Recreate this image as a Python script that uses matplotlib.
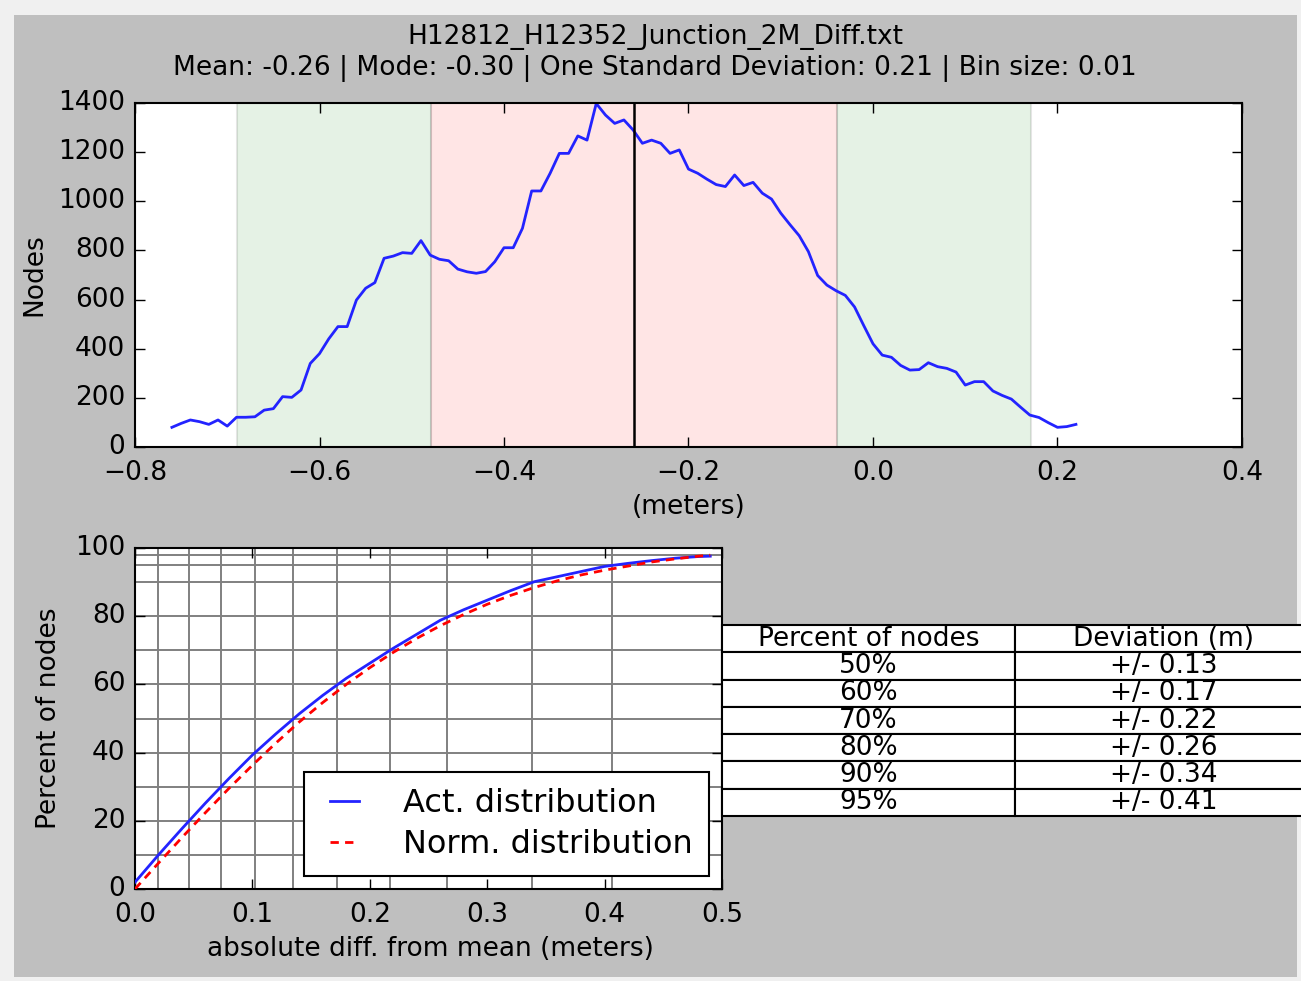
import matplotlib
matplotlib.use("Agg")
import matplotlib.pyplot as plt
import numpy as np
from matplotlib.patches import Rectangle

# --- histogram of differences (bin size 0.01, first bin at -0.76 m) ---
bin_start = -0.76
bin_size = 0.01
node_counts = [80, 96, 110, 103, 92, 110, 85, 121, 121, 123,
               150, 156, 205, 202, 232, 340, 380, 440, 490, 490,
               598, 646, 669, 768, 777, 791, 788, 840, 781, 764,
               758, 724, 713, 707, 714, 754, 811, 811, 890, 1042,
               1042, 1114, 1195, 1195, 1266, 1249, 1398, 1351, 1317, 1331,
               1290, 1236, 1249, 1236, 1195, 1209, 1131, 1114, 1090, 1068,
               1060, 1107, 1064, 1077, 1033, 1009, 952, 905, 860, 795,
               698, 659, 636, 617, 570, 494, 420, 374, 365, 332,
               313, 315, 343, 327, 320, 305, 252, 266, 266, 228,
               210, 195, 162, 130, 120, 99, 80, 83, 92]
mean_diff = -0.259
one_std_band = (-0.479, -0.039)
two_std_band = (-0.689, 0.171)

# --- cumulative distribution of |diff - mean| ---
abs_diff = [0.00, 0.02, 0.04, 0.06, 0.08, 0.10, 0.12, 0.14, 0.16, 0.18,
            0.20, 0.22, 0.24, 0.26, 0.28, 0.30, 0.32, 0.34, 0.36, 0.38,
            0.40, 0.42, 0.44, 0.46, 0.48, 0.49]
act_pct = [2.0, 10.0, 17.7, 25.2, 32.4, 39.3, 45.5, 51.4, 56.8, 61.8,
           66.2, 70.6, 74.7, 78.8, 81.9, 84.7, 87.5, 90.1, 91.6, 93.1,
           94.6, 95.5, 96.3, 97.0, 97.5, 97.6]
norm_pct = [0.0, 7.6, 15.1, 22.4, 29.5, 36.3, 42.8, 49.0, 54.7, 60.0,
            64.9, 69.4, 73.5, 77.2, 80.5, 83.5, 86.1, 88.4, 90.4, 92.1,
            93.5, 94.7, 95.9, 96.8, 97.6, 97.9]

# percentile grid (percent of nodes -> deviation)
grid_pct = [10, 20, 30, 40, 50, 60, 70, 80, 90, 95, 98]
grid_dev = [0.020, 0.046, 0.073, 0.102, 0.135, 0.172, 0.217, 0.266, 0.338, 0.406]

table_pct = ["50%", "60%", "70%", "80%", "90%", "95%"]
table_dev = [0.13, 0.17, 0.22, 0.26, 0.34, 0.41]

title_file = "H12812_H12352_Junction_2M_Diff.txt"
title_stats = "Mean: -0.26 | Mode: -0.30 | One Standard Deviation: 0.21 | Bin size: 0.01"

plt.style.use("classic")
plt.rcParams["font.family"] = ["DejaVu Sans"]
plt.rcParams["axes.unicode_minus"] = True

W, H = 1301, 981
FS = 19
BLUE = "#2323ff"

fig = plt.figure(figsize=(W / 100, H / 100), dpi=100, facecolor="#f0f0f0")
fig.add_artist(Rectangle((14 / W, 4 / H), 1283 / W, 962 / H, transform=fig.transFigure,
                         facecolor="#bfbfbf", edgecolor="none", zorder=-5))

fig.text(655 / W, 1 - 37 / H, title_file, ha="center", va="center", fontsize=FS)
fig.text(655 / W, 1 - 68 / H, title_stats, ha="center", va="center", fontsize=FS)


def style_axes(ax):
    ax.tick_params(direction="in", length=7, width=1, labelsize=FS,
                   top=True, right=True)
    ax.tick_params(axis="x", pad=9)
    ax.tick_params(axis="y", pad=7)
    for sp in ax.spines.values():
        sp.set_linewidth(1.5)


# --- top: histogram line ---
ax1 = fig.add_axes([135 / W, 1 - 447 / H, 1107 / W, 344 / H])
bins = np.round(bin_start + bin_size * np.arange(len(node_counts)), 2)
ax1.axvspan(two_std_band[0], one_std_band[0], facecolor="green",
            edgecolor="black", alpha=0.1, lw=1.5)
ax1.axvspan(one_std_band[1], two_std_band[1], facecolor="green",
            edgecolor="black", alpha=0.1, lw=1.5)
ax1.axvspan(one_std_band[0], one_std_band[1], facecolor="red",
            edgecolor="black", alpha=0.1, lw=1.5)
ax1.plot(bins, node_counts, color=BLUE, lw=2.0)
ax1.axvline(mean_diff, color="black", lw=1.8)
ax1.set_xlim(-0.8, 0.4)
ax1.set_ylim(0, 1400)
ax1.set_xticks(np.arange(-0.8, 0.41, 0.2))
ax1.set_yticks(np.arange(0, 1401, 200))
ax1.set_xlabel("(meters)", fontsize=FS)
ax1.set_ylabel("Nodes", fontsize=FS)
ax1.xaxis.set_label_coords(0.5, -0.137)
ax1.yaxis.set_label_coords(-0.0795, 0.5)
style_axes(ax1)

# --- bottom: cumulative distribution ---
ax2 = fig.add_axes([135 / W, 1 - 889 / H, 587 / W, 341 / H])
for d in grid_dev:
    ax2.axvline(d, color="#808080", lw=1.4, zorder=1)
for p in grid_pct:
    ax2.axhline(p, color="#808080", lw=1.4, zorder=1)
ax2.plot(abs_diff, act_pct, color=BLUE, lw=2.0, label="Act. distribution", zorder=3)
ax2.plot(abs_diff, norm_pct, color="red", lw=2.0, ls="--", dashes=(6, 4.5),
         label="Norm. distribution", zorder=3)
ax2.set_xlim(0, 0.5)
ax2.set_ylim(0, 100)
ax2.set_xticks(np.arange(0, 0.51, 0.1))
ax2.set_yticks(np.arange(0, 101, 20))
ax2.set_xlabel("absolute diff. from mean (meters)", fontsize=FS)
ax2.set_ylabel("Percent of nodes", fontsize=FS)
ax2.xaxis.set_label_coords(0.5026, -0.138)
ax2.yaxis.set_label_coords(-0.1244, 0.5)
style_axes(ax2)
leg = ax2.legend(loc="lower right", fontsize=23, handlelength=1.5, handletextpad=1.1,
                 borderpad=0.5, labelspacing=0.32, borderaxespad=0.4, fancybox=False)
leg.get_frame().set_linewidth(1.5)
leg.get_frame().set_edgecolor("black")

# --- table of deviations ---
ax3 = fig.add_axes([722 / W, 1 - 816 / H, 590 / W, 191 / H])
ax3.axis("off")
cells = [[p, "+/- %.2f" % d] for p, d in zip(table_pct, table_dev)]
tab = ax3.table(cellText=cells, colLabels=["Percent of nodes", "Deviation (m)"],
                cellLoc="center", colWidths=[293 / 590, 297 / 590], bbox=[0, 0, 1, 1])
tab.auto_set_font_size(False)
tab.set_fontsize(FS)
for cell in tab.get_celld().values():
    cell.set_linewidth(1.5)
    cell.set_edgecolor("black")
    cell.set_facecolor("white")

fig.savefig("out.png", dpi=100, facecolor=fig.get_facecolor())
